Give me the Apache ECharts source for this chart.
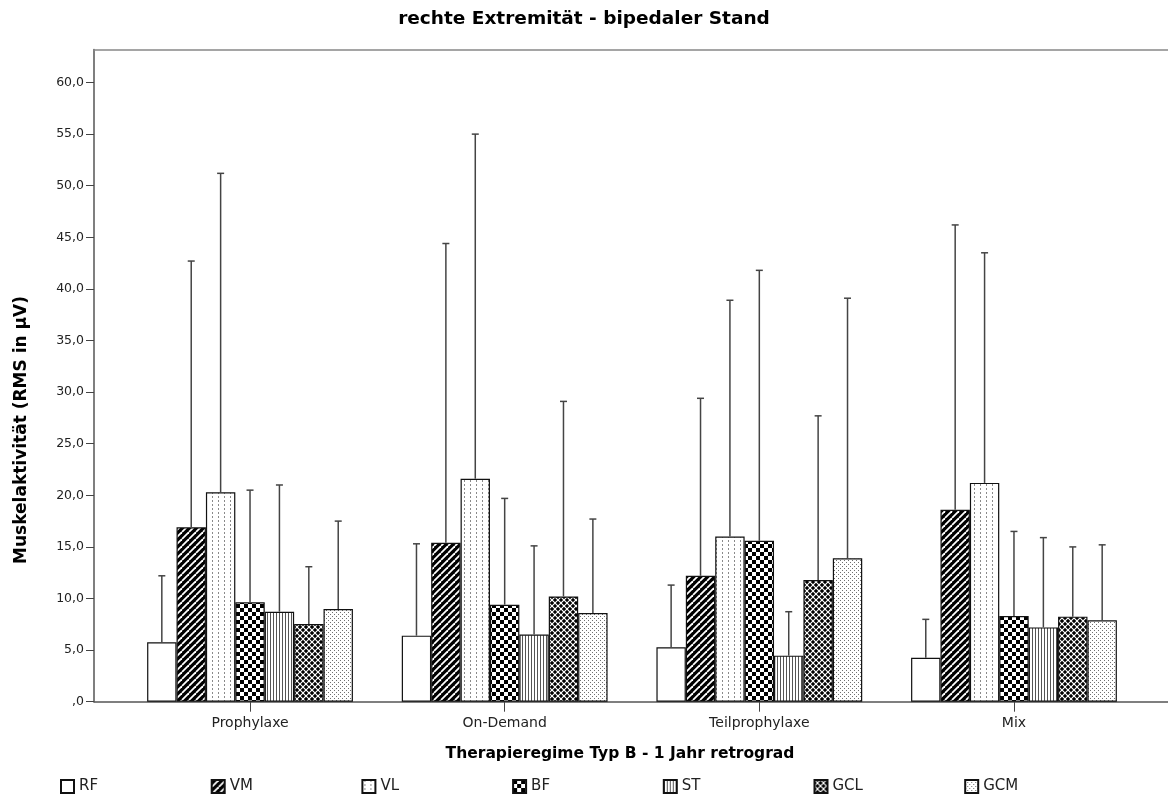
<!DOCTYPE html>
<html>
<head>
<meta charset="utf-8">
<script src="https://cdn.jsdelivr.net/npm/echarts@6/dist/echarts.min.js"></script>
<style>
  html, body { margin: 0; padding: 0; background: #ffffff; }
  #chart { width: 1168px; height: 812px; }
</style>
</head>
<body>
<div id="chart"></div>
<script>
// Treatment regimes on the category axis
const categories = ['Prophylaxe', 'On-Demand', 'Teilprophylaxe', 'Mix'];
// Muscles (one bar series each)
const muscles = ['RF', 'VM', 'VL', 'BF', 'ST', 'GCL', 'GCM'];

// Mean RMS per muscle, in category order
const meanRF  = [5.76, 6.4, 5.27, 4.26];
const meanVM  = [16.9, 15.4, 12.2, 18.6];
const meanVL  = [20.3, 21.6, 16.0, 21.2];
const meanBF  = [9.63, 9.4, 15.6, 8.3];
const meanST  = [8.72, 6.5, 4.46, 7.2];
const meanGCL = [7.53, 10.2, 11.8, 8.24];
const meanGCM = [8.98, 8.6, 13.9, 7.89];

// Upper end of the error bar (mean + SD), in category order
const upperRF  = [12.2, 15.3, 11.3, 7.98];
const upperVM  = [42.7, 44.4, 29.4, 46.2];
const upperVL  = [51.2, 55.0, 38.9, 43.5];
const upperBF  = [20.5, 19.7, 41.8, 16.5];
const upperST  = [21.0, 15.1, 8.72, 15.9];
const upperGCL = [13.08, 29.1, 27.7, 15.0];
const upperGCM = [17.5, 17.7, 39.1, 15.2];

// Y-axis tick values
const yTicks = [0, 5, 10, 15, 20, 25, 30, 35, 40, 45, 50, 55, 60];

const means = [meanRF, meanVM, meanVL, meanBF, meanST, meanGCL, meanGCM];
const uppers = [upperRF, upperVM, upperVL, upperBF, upperST, upperGCL, upperGCM];

const Y_MAX = 63.2;
const BAR_W = 29.4;
const FONT = 'DejaVu Sans';

// ---- black & white fill patterns ----
function pattern(w, h, draw) {
  const c = document.createElement('canvas');
  c.width = w; c.height = h;
  const ctx = c.getContext('2d');
  ctx.fillStyle = '#ffffff';
  ctx.fillRect(0, 0, w, h);
  draw(ctx, w, h);
  return { image: c, repeat: 'repeat' };
}

const fills = {
  RF: '#ffffff',
  // bold forward diagonal stripes
  VM: pattern(7, 7, (ctx, w) => {
    ctx.fillStyle = '#000';
    ctx.fillRect(0, 0, w, w);
    ctx.strokeStyle = '#fff';
    ctx.lineWidth = 1.8;
    for (let k = -1; k <= 1; k++) {
      ctx.beginPath();
      ctx.moveTo(k * w, w);
      ctx.lineTo(k * w + w, 0);
      ctx.stroke();
    }
  }),
  // dotted vertical lines
  VL: pattern(6, 4, (ctx) => {
    ctx.fillStyle = '#8a8a8a';
    ctx.fillRect(2, 0, 1, 2);
  }),
  // checkerboard
  BF: pattern(8, 8, (ctx) => {
    ctx.fillStyle = '#000';
    ctx.fillRect(0, 0, 4, 4);
    ctx.fillRect(4, 4, 4, 4);
  }),
  // thin vertical lines
  ST: pattern(3, 1, (ctx) => {
    ctx.fillStyle = '#555';
    ctx.fillRect(0, 0, 1, 1);
  }),
  // black with white diagonal lattice
  GCL: pattern(6, 6, (ctx, w) => {
    ctx.fillStyle = '#000';
    ctx.fillRect(0, 0, w, w);
    ctx.strokeStyle = '#fff';
    ctx.lineWidth = 1.2;
    for (let k = -1; k <= 1; k++) {
      ctx.beginPath(); ctx.moveTo(k * w, w); ctx.lineTo(k * w + w, 0); ctx.stroke();
      ctx.beginPath(); ctx.moveTo(k * w, 0); ctx.lineTo(k * w + w, w); ctx.stroke();
    }
  }),
  // fine dots
  GCM: pattern(4, 4, (ctx) => {
    ctx.fillStyle = '#707070';
    ctx.fillRect(0, 0, 1, 1);
    ctx.fillRect(2, 2, 1, 1);
  })
};

const fmt = v => (v === 0 ? ',0' : v.toFixed(1).replace('.', ','));

const barSeries = muscles.map((m, i) => ({
  type: 'bar',
  name: m,
  xAxisIndex: 2,
  yAxisIndex: 1,
  data: means[i],
  barWidth: BAR_W,
  barGap: '0%',
  itemStyle: { color: fills[m], borderColor: '#111', borderWidth: 1.2 },
  emphasis: { disabled: true },
  z: 2
}));

// error bar records: [categoryIndex, muscleIndex, mean, upper]
const errData = [];
categories.forEach((c, ci) => {
  muscles.forEach((m, si) => {
    errData.push([ci, si, means[si][ci], uppers[si][ci]]);
  });
});

const errSeries = {
  type: 'custom',
  xAxisIndex: 2,
  yAxisIndex: 1,
  data: errData,
  z: 3,
  silent: true,
  renderItem: (params, api) => {
    const ci = api.value(0), si = api.value(1);
    const base = api.coord([ci, api.value(2)]);
    const top = api.coord([ci, api.value(3)]);
    const x = base[0] + (si - (muscles.length - 1) / 2) * BAR_W;
    const st = { stroke: '#444', lineWidth: 1.5 };
    return {
      type: 'group',
      children: [
        { type: 'line', shape: { x1: x, y1: base[1], x2: x, y2: top[1] }, style: st },
        { type: 'line', shape: { x1: x - 3.5, y1: top[1], x2: x + 3.5, y2: top[1] }, style: st }
      ]
    };
  }
};

const chart = echarts.init(document.getElementById('chart'), null, { renderer: 'canvas' });

chart.setOption({
  animation: false,
  backgroundColor: '#ffffff',
  title: {
    text: 'rechte Extremität - bipedaler Stand',
    left: 'center',
    top: 5,
    textStyle: { fontFamily: FONT, fontWeight: 'bold', fontSize: 18.5, color: '#000' }
  },
  legend: muscles.map((m, i) => ({
    data: [m],
    left: 60 + i * 150.7,
    top: 779,
    padding: 0,
    icon: 'rect',
    itemWidth: 13,
    itemHeight: 13,
    selectedMode: false,
    textStyle: { fontFamily: FONT, fontSize: 15, color: '#222' }
  })),
  grid: [
    // outer frame with the value axis
    { left: 94, right: 0, top: 49.5, bottom: 110.3 },
    // bar area, inset from the frame
    { left: 122.7, right: 26.7, top: 49.5, bottom: 110.3 }
  ],
  xAxis: [
    {
      type: 'value', gridIndex: 0, min: 0, max: 1, position: 'bottom',
      axisLine: { show: true, lineStyle: { color: '#555', width: 1.5 } },
      axisTick: { show: false }, axisLabel: { show: false }, splitLine: { show: false }
    },
    {
      type: 'value', gridIndex: 0, min: 0, max: 1, position: 'top',
      axisLine: { show: true, lineStyle: { color: '#888', width: 1.5 } },
      axisTick: { show: false }, axisLabel: { show: false }, splitLine: { show: false }
    },
    {
      type: 'category', gridIndex: 1, data: categories,
      axisLine: { show: false },
      axisTick: { show: true, alignWithLabel: true, length: 10, lineStyle: { color: '#444', width: 1 } },
      axisLabel: { margin: 15, fontFamily: FONT, fontSize: 14, color: '#222' },
      splitLine: { show: false }
    }
  ],
  yAxis: [
    {
      type: 'value', gridIndex: 0, min: 0, max: Y_MAX, interval: 5,
      axisLine: { show: true, lineStyle: { color: '#555', width: 1.5 } },
      axisTick: { show: true, length: 8, customValues: yTicks, lineStyle: { color: '#444' } },
      axisLabel: {
        customValues: yTicks, margin: 10, fontFamily: FONT, fontSize: 12.5, color: '#222',
        formatter: v => (yTicks.includes(v) ? fmt(v) : '')
      },
      splitLine: { show: false }
    },
    {
      type: 'value', gridIndex: 1, min: 0, max: Y_MAX, show: false
    }
  ],
  graphic: [
    {
      type: 'text', x: 22, y: 430, rotation: Math.PI / 2,
      style: {
        text: 'Muskelaktivität (RMS in µV)', align: 'center', verticalAlign: 'middle',
        fontFamily: FONT, fontWeight: 'bold', fontSize: 17, fill: '#000'
      }
    },
    {
      type: 'text', x: 620, y: 754,
      style: {
        text: 'Therapieregime Typ B - 1 Jahr retrograd', align: 'center', verticalAlign: 'middle',
        fontFamily: FONT, fontWeight: 'bold', fontSize: 15.5, fill: '#000'
      }
    }
  ],
  series: [...barSeries, errSeries]
});
</script>
</body>
</html>
